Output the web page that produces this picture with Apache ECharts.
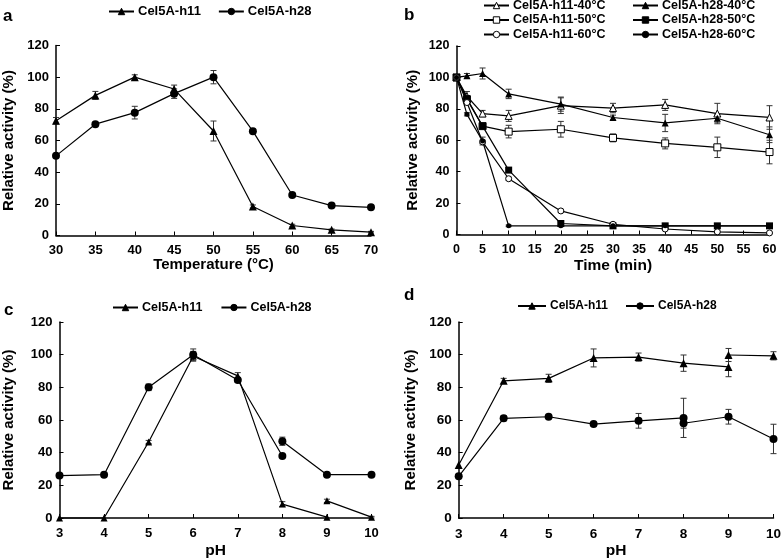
<!DOCTYPE html>
<html><head><meta charset="utf-8">
<script src="https://cdn.jsdelivr.net/npm/echarts@6/dist/echarts.min.js"></script>
<style>html,body{margin:0;padding:0;background:#fff}#c{width:784px;height:560px}</style>
</head><body><div id="c"></div>
<script>
// ---- Panel a: temperature ----
const tempC = [30, 35, 40, 45, 50, 55, 60, 65, 70];
const aH11 = [72.5, 88.5, 100, 92.5, 66, 18.3, 6.3, 3.6, 2.1];
const aH11Err = [2, 2.5, 1.5, 2.5, 6.3, 1, 0.8, 0.5, 0.5];
const aH28 = [50.3, 70.3, 77.6, 89.6, 100, 65.9, 25.6, 18.9, 17.8];
const aH28Err = [1, 1, 4, 3, 4.2, 1, 1, 0.8, 0.8];

// ---- Panel b: thermostability ----
const timeMin = [0, 2, 5, 10, 20, 30, 40, 50, 60];
const bH11_40 = [100, 88, 77, 75.5, 82, 80.5, 82.5, 77, 74.5];
const bH11_40Err = [0, 3, 2, 3.5, 5, 3, 3.5, 6.5, 7.5];
const bH28_40 = [100, 101, 102.5, 89.5, 83, 74.5, 71, 74, 63.5];
const bH28_40Err = [0, 1.5, 3.5, 3, 4.5, 1.5, 5.5, 2.5, 5];
const bH11_50 = [100, 86, 69, 65.5, 67, 61.5, 58, 55.5, 52.5];
const bH11_50Err = [0, 2, 1.5, 4, 5, 2.5, 3.5, 6.5, 7.5];
const bH28_50 = [100, 86.5, 69, 41, 7, 5.5, 5.5, 5.5, 5.5];
const bH28_50Err = [0, 1, 1, 1.5, 1, 0.5, 0.5, 0.5, 0.5];
const bH11_60 = [100, 84, 59, 35.5, 15, 6.5, 3.5, 1.7, 1];
const bH11_60Err = [0, 1, 1, 1, 1, 0.5, 0.5, 0.5, 0.5];
const bH28_60 = [100, 76.5, 59.5, 5.5, 5.5, 5.5, 5.5, 5.5, 5.5];
const bH28_60Err = [0, 1, 2.5, 0.5, 0.5, 0.5, 0.5, 0.5, 0.5];

// ---- Panels c & d: pH ----
const pH = [3, 4, 5, 6, 7, 8, 9, 10];
const cH11Buf1 = [0, 0, 46.5, 99, 87, 8.5, 0.5, null];
const cH11Buf1Err = [0, 0, 1, 3, 2, 1.5, 0, 0];
const cH11Buf2 = [null, null, null, null, null, null, 10.5, 0.5];
const cH11Buf2Err = [0, 0, 0, 0, 0, 0, 1, 0.5];
const cH28Buf1 = [26, 26.5, 80, 100, 84.5, 38, null, null];
const cH28Buf1Err = [0, 0, 2, 3.5, 1.5, 0, 0, 0];
const cH28Buf2 = [null, null, null, null, null, 47, 26.5, 26.5];
const cH28Buf2Err = [0, 0, 0, 0, 0, 2.5, 0.5, 0.5];

const dH11Buf1 = [32.5, 84, 85.5, 98, 98.5, 94.8, 92.5, null];
const dH11Buf1Err = [0, 1.5, 2.5, 5.5, 2.5, 5, 6, 0];
const dH11Buf2 = [null, null, null, null, null, null, 99.8, 99.3];
const dH11Buf2Err = [0, 0, 0, 0, 0, 0, 4, 2.5];
const dH28Buf1 = [25.5, 61, 62, 57.5, 59.5, 61.3, null, null];
const dH28Buf1Err = [0, 1.5, 1, 1, 4.5, 12, 0, 0];
const dH28Buf2 = [null, null, null, null, null, 58, 62, 48.4];
const dH28Buf2Err = [0, 0, 0, 0, 0, 3, 4.5, 9];

const FONT = '"Liberation Sans", Arial, sans-serif';

function pairs(xs, ys) {
  return xs.map((x, i) => [x, ys[i]]).filter(d => d[1] != null);
}
function lineS(name, gi, xs, ys, symbol, size, filled) {
  return {
    type: 'line', name, xAxisIndex: gi, yAxisIndex: gi, z: 3,
    data: pairs(xs, ys), symbol, symbolSize: size, showAllSymbol: true, clip: false,
    lineStyle: { color: '#000', width: 1.2 },
    itemStyle: { color: filled ? '#000' : '#fff', borderColor: '#000', borderWidth: filled ? 0 : 1 },
    emphasis: { disabled: true }, animation: false
  };
}
function errS(gi, xs, ys, es, cap) {
  const data = xs.map((x, i) => [x, ys[i], es[i]]).filter(d => d[1] != null && d[2] > 0);
  return {
    type: 'custom', xAxisIndex: gi, yAxisIndex: gi, z: 2, silent: true, animation: false,
    data,
    renderItem: (p, api) => {
      const x = api.value(0), y = api.value(1), e = api.value(2);
      const t = api.coord([x, y + e]), b = api.coord([x, y - e]);
      const w = cap / 2, st = { stroke: '#333', lineWidth: 1 };
      return { type: 'group', children: [
        { type: 'line', shape: { x1: t[0], y1: t[1], x2: b[0], y2: b[1] }, style: st },
        { type: 'line', shape: { x1: t[0] - w, y1: t[1], x2: t[0] + w, y2: t[1] }, style: st },
        { type: 'line', shape: { x1: b[0] - w, y1: b[1], x2: b[0] + w, y2: b[1] }, style: st }
      ] };
    }
  };
}
function xAx(gi, min, max, interval, fs, name, nameGap, nfs, margin) {
  return {
    type: 'value', gridIndex: gi, min, max, interval,
    name, nameLocation: 'middle', nameGap,
    nameTextStyle: { fontSize: nfs, fontWeight: 'bold', color: '#000', fontFamily: FONT },
    axisLine: { onZero: false, lineStyle: { color: '#000', width: 1.5 } },
    axisTick: { inside: true, length: 4, lineStyle: { color: '#000', width: 1 } },
    axisLabel: { fontSize: fs, fontWeight: 'bold', color: '#000', margin, fontFamily: FONT,
                 showMinLabel: true, showMaxLabel: true, hideOverlap: false },
    splitLine: { show: false }
  };
}
function yAx(gi, fs, nameGap, nfs) {
  return {
    type: 'value', gridIndex: gi, min: 0, max: 120, interval: 20,
    name: 'Relative activity (%)', nameLocation: 'middle', nameGap,
    nameTextStyle: { fontSize: nfs, fontWeight: 'bold', color: '#000', fontFamily: FONT },
    axisLine: { show: true, onZero: false, lineStyle: { color: '#000', width: 1.5 } },
    axisTick: { show: true, inside: true, length: 4, lineStyle: { color: '#000', width: 1 } },
    axisLabel: { fontSize: fs, fontWeight: 'bold', color: '#000', margin: 7, fontFamily: FONT,
                 showMinLabel: true, showMaxLabel: true, hideOverlap: false },
    splitLine: { show: false }
  };
}
function legend(names, left, top, fs, orient, gap, w) {
  return {
    data: names, left, top, orient, itemGap: gap, itemWidth: w || 25, itemHeight: 8,
    padding: 0, selectedMode: false,
    itemStyle: { borderWidth: 1 },
    textStyle: { fontSize: fs, fontWeight: 'bold', color: '#000', fontFamily: FONT, padding: [0, 0, 0, -1] }
  };
}

const series = [
  // a
  errS(0, tempC, aH11, aH11Err, 6), errS(0, tempC, aH28, aH28Err, 6),
  lineS('Cel5A-h11', 0, tempC, aH11, 'triangle', 8, true),
  lineS('Cel5A-h28', 0, tempC, aH28, 'circle', 8, true),
  // b
  errS(1, timeMin, bH11_40, bH11_40Err, 6), errS(1, timeMin, bH28_40, bH28_40Err, 6),
  errS(1, timeMin, bH11_50, bH11_50Err, 6), errS(1, timeMin, bH28_50, bH28_50Err, 6),
  errS(1, timeMin, bH11_60, bH11_60Err, 6), errS(1, timeMin, bH28_60, bH28_60Err, 6),
  lineS('Cel5A-h11-40°C', 1, timeMin, bH11_40, 'triangle', 7, false),
  lineS('Cel5A-h28-40°C', 1, timeMin, bH28_40, 'triangle', 7, true),
  lineS('Cel5A-h11-50°C', 1, timeMin, bH11_50, 'rect', 7, false),
  lineS('Cel5A-h28-50°C', 1, timeMin, bH28_50, 'rect', 7, true),
  lineS('Cel5A-h11-60°C', 1, timeMin, bH11_60, 'circle', 6, false),
  lineS('Cel5A-h28-60°C', 1, timeMin, bH28_60, 'circle', 5, true),
  // c
  errS(2, pH, cH11Buf1, cH11Buf1Err, 6), errS(2, pH, cH11Buf2, cH11Buf2Err, 6),
  errS(2, pH, cH28Buf1, cH28Buf1Err, 6), errS(2, pH, cH28Buf2, cH28Buf2Err, 6),
  lineS('Cel5A-h11', 2, pH, cH11Buf1, 'triangle', 7, true),
  lineS('Cel5A-h11', 2, pH, cH11Buf2, 'triangle', 7, true),
  lineS('Cel5A-h28', 2, pH, cH28Buf1, 'circle', 8, true),
  lineS('Cel5A-h28', 2, pH, cH28Buf2, 'circle', 8, true),
  // d
  errS(3, pH, dH11Buf1, dH11Buf1Err, 6), errS(3, pH, dH11Buf2, dH11Buf2Err, 6),
  errS(3, pH, dH28Buf1, dH28Buf1Err, 6), errS(3, pH, dH28Buf2, dH28Buf2Err, 6),
  lineS('Cel5A-h11', 3, pH, dH11Buf1, 'triangle', 8, true),
  lineS('Cel5A-h11', 3, pH, dH11Buf2, 'triangle', 8, true),
  lineS('Cel5A-h28', 3, pH, dH28Buf1, 'circle', 8, true),
  lineS('Cel5A-h28', 3, pH, dH28Buf2, 'circle', 8, true)
];

const option = {
  animation: false,
  backgroundColor: '#fff',
  textStyle: { fontFamily: FONT },
  grid: [
    { left: 56, top: 45.5, width: 315, height: 190 },
    { left: 456.5, top: 46, width: 313, height: 188.5 },
    { left: 59.5, top: 322, width: 312, height: 198 },
    { left: 458.7, top: 322, width: 319, height: 198 }
  ],
  xAxis: [
    xAx(0, 30, 70, 5, 13, 'Temperature (°C)', 19, 15, 8),
    xAx(1, 0, 60, 5, 12.5, 'Time (min)', 20, 15.5, 9),
    xAx(2, 3, 10, 1, 13, 'pH', 25, 15.5, 9),
    xAx(3, 3, 10, 1, 13.5, 'pH', 25, 15.5, 9)
  ],
  yAxis: [yAx(0, 13, 40, 15), yAx(1, 12.5, 36, 15), yAx(2, 13, 43, 15), yAx(3, 13.5, 40, 15)],
  legend: [
    legend(['Cel5A-h11', 'Cel5A-h28'], 108, 5, 13, 'horizontal', 17),
    legend(['Cel5A-h11-40°C', 'Cel5A-h11-50°C', 'Cel5A-h11-60°C'], 483, -1, 12.5, 'vertical', 1.5),
    legend(['Cel5A-h28-40°C', 'Cel5A-h28-50°C', 'Cel5A-h28-60°C'], 632, -1, 12.5, 'vertical', 1.5),
    legend(['Cel5A-h11', 'Cel5A-h28'], 112, 301, 12.5, 'horizontal', 18),
    legend(['Cel5A-h11', 'Cel5A-h28'], 517, 300, 12, 'horizontal', 17, 28)
  ],
  graphic: [
    { type: 'text', left: 3, top: 8, style: { text: 'a', fontSize: 17, fontWeight: 'bold', fill: '#000', fontFamily: FONT } },
    { type: 'text', left: 404, top: 7, style: { text: 'b', fontSize: 17, fontWeight: 'bold', fill: '#000', fontFamily: FONT } },
    { type: 'text', left: 4, top: 302, style: { text: 'c', fontSize: 17, fontWeight: 'bold', fill: '#000', fontFamily: FONT } },
    { type: 'text', left: 404, top: 287, style: { text: 'd', fontSize: 17, fontWeight: 'bold', fill: '#000', fontFamily: FONT } }
  ],
  series
};
const chart = echarts.init(document.getElementById('c'), null, { renderer: 'canvas' });
chart.setOption(option);
</script></body></html>
